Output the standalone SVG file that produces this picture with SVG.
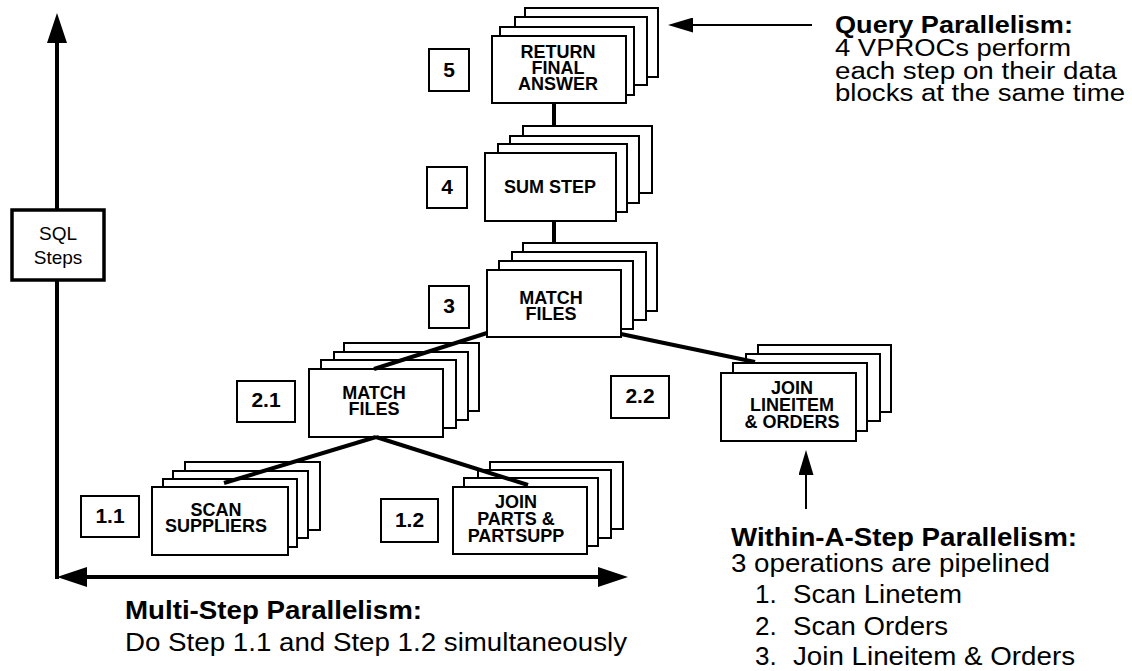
<svg xmlns="http://www.w3.org/2000/svg" width="1132" height="671" viewBox="0 0 1132 671">
<defs>
<marker id="axisHead" markerUnits="userSpaceOnUse" markerWidth="30" markerHeight="20" refX="0" refY="10" orient="auto-start-reverse"><path d="M0,0 L30,10 L0,20 Z" fill="#000"/></marker>
<marker id="smallHead" markerUnits="userSpaceOnUse" markerWidth="25" markerHeight="15" refX="0" refY="7.5" orient="auto-start-reverse"><path d="M0,0 L25,7.5 L0,15 Z" fill="#000"/></marker>
</defs>
<style>
text{font-family:"Liberation Sans",Arial,Helvetica,sans-serif;fill:#000}
.layer{fill:#fff;stroke:#000;stroke-width:2}
.num{fill:#fff;stroke:#000;stroke-width:2}
.lbl{font-size:18px;font-weight:bold;text-anchor:middle}
.numt{font-size:21px;font-weight:bold;text-anchor:middle}
.cap{font-size:26px}
.capb{font-size:26px;font-weight:bold}
.tr{font-size:23px}
.trb{font-size:23px;font-weight:bold}
.conn{stroke:#000;stroke-width:4;fill:none}
.axis{stroke:#000;stroke-width:4;fill:none}
.thin{stroke:#000;stroke-width:2;fill:none}
</style>
<rect width="1132" height="671" fill="#fff"/>

<g id="axes">
<line class="axis" x1="57" y1="579" x2="57" y2="43" marker-end="url(#axisHead)"/>
<line class="axis" x1="87" y1="577" x2="598" y2="577" marker-start="url(#axisHead)" marker-end="url(#axisHead)"/>
</g>

<g id="sql-steps">
<rect x="12" y="210" width="92" height="70" fill="#fff" stroke="#000" stroke-width="3.5"/>
<text x="58" y="240" font-size="19" text-anchor="middle">SQL</text>
<text x="58" y="264" font-size="19" text-anchor="middle">Steps</text>
</g>

<g id="step5">
<rect class="layer" x="525" y="8" width="133" height="69"/>
<rect class="layer" x="515" y="17" width="132" height="68"/>
<rect class="layer" x="500" y="27" width="134" height="68"/>
<rect class="layer" x="492" y="36" width="134" height="67"/>
<text class="lbl" x="558" y="58">RETURN</text>
<text class="lbl" x="558" y="74">FINAL</text>
<text class="lbl" x="558" y="90">ANSWER</text>
</g>
<g id="num5"><rect class="num" x="429" y="49" width="40" height="42"/><text class="numt" x="449" y="77">5</text></g>

<g id="step4">
<rect class="layer" x="523" y="126" width="129" height="67"/>
<rect class="layer" x="510" y="136" width="129" height="67"/>
<rect class="layer" x="498" y="144" width="129" height="68"/>
<rect class="layer" x="485" y="153" width="131" height="68"/>
<text class="lbl" x="550" y="193">SUM STEP</text>
</g>
<g id="num4"><rect class="num" x="427" y="167" width="40" height="41"/><text class="numt" x="447" y="194">4</text></g>

<g id="step3">
<rect class="layer" x="523" y="243" width="134" height="68"/>
<rect class="layer" x="512" y="252" width="134" height="68"/>
<rect class="layer" x="499" y="261" width="134" height="68"/>
<rect class="layer" x="487" y="270" width="134" height="67"/>
<text class="lbl" x="551" y="304">MATCH</text>
<text class="lbl" x="551" y="320">FILES</text>
</g>
<g id="num3"><rect class="num" x="429" y="286" width="40" height="42"/><text class="numt" x="449" y="313">3</text></g>

<g id="step2-1">
<rect class="layer" x="344" y="343" width="135" height="68"/>
<rect class="layer" x="334" y="352" width="134" height="68"/>
<rect class="layer" x="321" y="360" width="135" height="68"/>
<rect class="layer" x="309" y="369" width="134" height="68"/>
<text class="lbl" x="374" y="399">MATCH</text>
<text class="lbl" x="374" y="415">FILES</text>
</g>
<g id="num2-1"><rect class="num" x="237" y="381" width="58" height="41"/><text class="numt" x="266" y="407">2.1</text></g>

<g id="step2-2">
<rect class="layer" x="758" y="345" width="133" height="67"/>
<rect class="layer" x="746" y="354" width="134" height="67"/>
<rect class="layer" x="733" y="363" width="134" height="68"/>
<rect class="layer" x="721" y="373" width="135" height="68"/>
<text class="lbl" x="792" y="394">JOIN</text>
<text class="lbl" x="792" y="411">LINEITEM</text>
<text class="lbl" x="792" y="428">&amp; ORDERS</text>
</g>
<g id="num2-2"><rect class="num" x="611" y="376" width="58" height="42"/><text class="numt" x="640" y="403">2.2</text></g>

<g id="step1-1">
<rect class="layer" x="185" y="462" width="135" height="68"/>
<rect class="layer" x="173" y="471" width="135" height="67"/>
<rect class="layer" x="163" y="479" width="134" height="68"/>
<rect class="layer" x="152" y="487" width="136" height="68"/>
<text class="lbl" x="216" y="516">SCAN</text>
<text class="lbl" x="216" y="532">SUPPLIERS</text>
</g>
<g id="num1-1"><rect class="num" x="81" y="496" width="58" height="41"/><text class="numt" x="110" y="523">1.1</text></g>

<g id="step1-2">
<rect class="layer" x="490" y="462" width="133" height="67"/>
<rect class="layer" x="478" y="470" width="133" height="68"/>
<rect class="layer" x="464" y="478" width="134" height="68"/>
<rect class="layer" x="453" y="487" width="134" height="67"/>
<text class="lbl" x="516" y="508">JOIN</text>
<text class="lbl" x="516" y="525">PARTS &amp;</text>
<text class="lbl" x="516" y="542">PARTSUPP</text>
</g>
<g id="num1-2"><rect class="num" x="381" y="499" width="57" height="43"/><text class="numt" x="409.5" y="527">1.2</text></g>

<g id="connectors">
<line class="conn" x1="554" y1="103" x2="554" y2="126"/>
<line class="conn" x1="554" y1="221" x2="554" y2="243"/>
<line class="conn" x1="487" y1="333" x2="374" y2="369"/>
<line class="conn" x1="621" y1="334" x2="755" y2="362"/>
<line class="conn" x1="376" y1="437" x2="224" y2="483"/>
<line class="conn" x1="376" y1="437" x2="528" y2="485"/>
<line class="thin" x1="812" y1="25" x2="693" y2="25" marker-end="url(#smallHead)"/>
<line class="thin" x1="806" y1="509" x2="806" y2="475" marker-end="url(#smallHead)"/>
</g>

<g id="query-parallelism">
<text class="trb" x="835" y="33" textLength="238" lengthAdjust="spacingAndGlyphs">Query Parallelism:</text>
<text class="tr" x="835" y="56" textLength="236" lengthAdjust="spacingAndGlyphs">4 VPROCs perform</text>
<text class="tr" x="835" y="79" textLength="282" lengthAdjust="spacingAndGlyphs">each step on their data</text>
<text class="tr" x="835" y="101" textLength="290" lengthAdjust="spacingAndGlyphs">blocks at the same time</text>
</g>

<g id="within-step">
<text class="capb" x="731" y="546" textLength="346" lengthAdjust="spacingAndGlyphs">Within-A-Step Parallelism:</text>
<text class="cap" x="731" y="572" textLength="319" lengthAdjust="spacingAndGlyphs">3 operations are pipelined</text>
<text class="cap" x="755" y="603">1.</text>
<text class="cap" x="793" y="603" textLength="169" lengthAdjust="spacingAndGlyphs">Scan Linetem</text>
<text class="cap" x="755" y="635">2.</text>
<text class="cap" x="793" y="635" textLength="155" lengthAdjust="spacingAndGlyphs">Scan Orders</text>
<text class="cap" x="755" y="665">3.</text>
<text class="cap" x="793" y="665" textLength="282" lengthAdjust="spacingAndGlyphs">Join Lineitem &amp; Orders</text>
</g>

<g id="multi-step">
<text class="capb" x="125" y="619" textLength="297" lengthAdjust="spacingAndGlyphs">Multi-Step Parallelism:</text>
<text class="cap" x="125" y="651" textLength="502" lengthAdjust="spacingAndGlyphs">Do Step 1.1 and Step 1.2 simultaneously</text>
</g>
</svg>
